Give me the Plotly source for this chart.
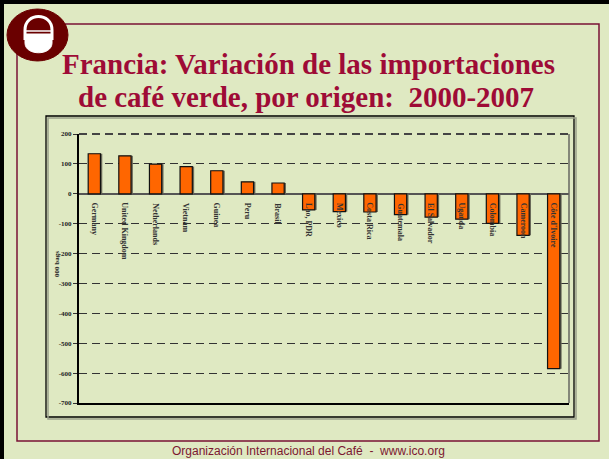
import plotly.graph_objects as go

# ---- data ----
countries = ["Germany", "United Kingdom", "Netherlands", "Vietnam", "Guinea", "Peru",
             "Brasil", "Lao, PDR", "Mexico", "Costa Rica", "Guatemala", "El Salvador",
             "Uganda", "Colombia", "Cameroon", "Côte d'Ivoire"]
change = [134, 127, 99, 91, 77, 40, 36, -54, -60, -61, -70, -78, -85, -99, -139, -585]
y_ticks = [200, 100, 0, -100, -200, -300, -400, -500, -600, -700]

title_line1 = "Francia: Variación de las importaciones"
title_line2 = "de café verde, por origen:  2000-2007"
footer = "Organización Internacional del Café  -  www.ico.org"
y_title = "000 bags"

# ---- geometry helpers (pixel -> paper) ----
W, H = 609, 459
L, R, T, B = 79, 569, 134, 403


def X(px):
    return (px - L) / (R - L)


def Y(py):
    return (B - py) / (B - T)


BG = "#DFE9C2"
SERIF = "Liberation Serif"
idx = list(range(len(countries)))

fig = go.Figure()
# shadow
fig.add_trace(go.Bar(x=idx, y=change, width=0.4, offset=-0.14,
                     marker=dict(color="#6a6a5a", line=dict(width=0)),
                     hoverinfo="skip", showlegend=False))
fig.add_trace(go.Bar(x=idx, y=change, width=0.4, offset=-0.2,
                     marker=dict(color="#FF6600", line=dict(color="#111111", width=1.2)),
                     showlegend=False))

annotations = []
for i, c in zip(idx, countries):
    annotations.append(dict(x=i, y=0, xref="x", yref="y", text="<b>" + c + "</b>",
                            textangle=90, showarrow=False, yanchor="top", xanchor="center",
                            yshift=-7, font=dict(family=SERIF, size=8, color="#333333")))

annotations += [
    dict(x=X(308), y=Y(64), xref="paper", yref="paper", text="<b>" + title_line1 + "</b>",
         showarrow=False, xanchor="center", yanchor="middle",
         font=dict(family=SERIF, size=29, color="#9E0B36")),
    dict(x=X(306), y=Y(97), xref="paper", yref="paper", text="<b>" + title_line2 + "</b>",
         showarrow=False, xanchor="center", yanchor="middle",
         font=dict(family=SERIF, size=29, color="#9E0B36")),
    dict(x=X(308), y=Y(451), xref="paper", yref="paper", text=footer,
         showarrow=False, xanchor="center", yanchor="middle",
         font=dict(family="Liberation Sans", size=12, color="#7B1730")),
    dict(x=X(57), y=Y(264), xref="paper", yref="paper", text="<b>" + y_title + "</b>",
         textangle=-90, showarrow=False, xanchor="center", yanchor="middle",
         font=dict(family=SERIF, size=7, color="#222222")),
]

shapes = []
# outer black border (top and left)
shapes.append(dict(type="line", xref="paper", yref="paper", x0=X(0), x1=X(609), y0=Y(2), y1=Y(2),
                   line=dict(color="#000000", width=4)))
shapes.append(dict(type="line", xref="paper", yref="paper", x0=X(2), x1=X(2), y0=Y(0), y1=Y(459),
                   line=dict(color="#000000", width=4)))
# maroon frame
shapes.append(dict(type="rect", xref="paper", yref="paper", x0=X(17), x1=X(599), y0=Y(24), y1=Y(441),
                   line=dict(color="#7A1235", width=1.5)))
# chart box with shadow
shapes.append(dict(type="rect", xref="paper", yref="paper", x0=X(48), x1=X(576), y0=Y(118), y1=Y(419),
                   line=dict(color="#9aa08a", width=1.5)))
shapes.append(dict(type="rect", xref="paper", yref="paper", x0=X(46), x1=X(574), y0=Y(116), y1=Y(417),
                   line=dict(color="#000000", width=1.3), fillcolor=BG, layer="below"))
# plot frame: right grey, top dashed
shapes.append(dict(type="line", xref="paper", yref="paper", x0=1, x1=1, y0=0, y1=1,
                   line=dict(color="#666660", width=1.5)))
shapes.append(dict(type="line", xref="paper", yref="paper", x0=0, x1=1, y0=1, y1=1,
                   line=dict(color="#444444", width=2, dash="8px,5px")))
# logo
shapes.append(dict(type="circle", xref="paper", yref="paper", x0=X(7), x1=X(68), y0=Y(9), y1=Y(61),
                   fillcolor="#6A0000", line=dict(color="#6A0000", width=1)))
lower = ("M {a},{b} L {c},{b} L {c},{d} C {c},{e} {a},{e} {a},{d} Z").format(
    a=X(25), c=X(52), b=Y(34), d=Y(43), e=Y(56))
shapes.append(dict(type="path", xref="paper", yref="paper", path=lower,
                   fillcolor="#FFFFFF", line=dict(color="#FFFFFF", width=1)))
outline = ("M {a},{d} L {a},{m} C {a},{t} {c},{t} {c},{m} L {c},{d}").format(
    a=X(25), c=X(52), m=Y(30), t=Y(12), d=Y(40))
shapes.append(dict(type="path", xref="paper", yref="paper", path=outline,
                   line=dict(color="#FFFFFF", width=3)))
shapes.append(dict(type="line", xref="paper", yref="paper", x0=X(25), x1=X(52), y0=Y(31), y1=Y(31),
                   line=dict(color="#FFFFFF", width=1.5)))

fig.update_layout(
    width=W, height=H,
    margin=dict(l=L, r=W - R, t=T, b=H - B, pad=0),
    paper_bgcolor=BG, plot_bgcolor=BG,
    barmode="overlay",
    annotations=annotations, shapes=shapes,
    xaxis=dict(range=[-0.5, len(countries) - 0.5], showticklabels=False, ticks="",
               showgrid=False, zeroline=False, showline=True, linecolor="#000000",
               linewidth=1.5, fixedrange=True),
    yaxis=dict(range=[-700, 200], tickvals=y_ticks, ticktext=["<b>%d</b>" % v for v in y_ticks],
               tickfont=dict(family=SERIF, size=7, color="#222222"),
               ticks="outside", ticklen=4, tickcolor="#333333",
               showgrid=True, gridcolor="#333333", gridwidth=1, griddash="8px,5px",
               zeroline=True, zerolinecolor="#555555", zerolinewidth=1.5,
               showline=True, linecolor="#000000", linewidth=2, fixedrange=True),
    showlegend=False,
)

fig.write_html("out.html", config={"displayModeBar": False},
               post_script="document.body.style.margin='0';document.body.style.padding='0';"
                           "document.body.style.overflow='hidden';")
